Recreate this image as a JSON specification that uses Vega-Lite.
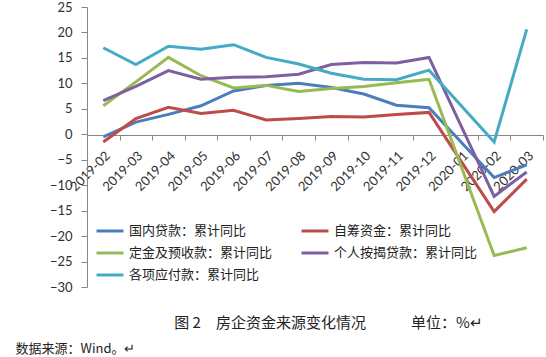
{
  "$schema": "https://vega.github.io/schema/vega-lite/v6.json",
  "autosize": {"type": "none"},
  "padding": {"left": 87, "top": 7, "right": 3, "bottom": 70},
  "width": 456,
  "height": 280,
  "background": "white",
  "config": {
    "view": {"stroke": null},
    "font": "Lato"
  },
  "data": {
    "values": [
      {"month": "2019-02", "series": "国内贷款：累计同比", "value": -0.5},
      {"month": "2019-03", "series": "国内贷款：累计同比", "value": 2.4},
      {"month": "2019-04", "series": "国内贷款：累计同比", "value": 3.9},
      {"month": "2019-05", "series": "国内贷款：累计同比", "value": 5.6},
      {"month": "2019-06", "series": "国内贷款：累计同比", "value": 8.5},
      {"month": "2019-07", "series": "国内贷款：累计同比", "value": 9.6},
      {"month": "2019-08", "series": "国内贷款：累计同比", "value": 10.0},
      {"month": "2019-09", "series": "国内贷款：累计同比", "value": 9.2},
      {"month": "2019-10", "series": "国内贷款：累计同比", "value": 7.9},
      {"month": "2019-11", "series": "国内贷款：累计同比", "value": 5.7},
      {"month": "2019-12", "series": "国内贷款：累计同比", "value": 5.2},
      {"month": "2020-02", "series": "国内贷款：累计同比", "value": -8.5},
      {"month": "2020-03", "series": "国内贷款：累计同比", "value": -6.0},

      {"month": "2019-02", "series": "自筹资金：累计同比", "value": -1.5},
      {"month": "2019-03", "series": "自筹资金：累计同比", "value": 3.1},
      {"month": "2019-04", "series": "自筹资金：累计同比", "value": 5.3},
      {"month": "2019-05", "series": "自筹资金：累计同比", "value": 4.1},
      {"month": "2019-06", "series": "自筹资金：累计同比", "value": 4.7},
      {"month": "2019-07", "series": "自筹资金：累计同比", "value": 2.8},
      {"month": "2019-08", "series": "自筹资金：累计同比", "value": 3.1},
      {"month": "2019-09", "series": "自筹资金：累计同比", "value": 3.5},
      {"month": "2019-10", "series": "自筹资金：累计同比", "value": 3.4},
      {"month": "2019-11", "series": "自筹资金：累计同比", "value": 3.9},
      {"month": "2019-12", "series": "自筹资金：累计同比", "value": 4.3},
      {"month": "2020-02", "series": "自筹资金：累计同比", "value": -15.2},
      {"month": "2020-03", "series": "自筹资金：累计同比", "value": -8.8},

      {"month": "2019-02", "series": "定金及预收款：累计同比", "value": 5.6},
      {"month": "2019-03", "series": "定金及预收款：累计同比", "value": 10.3},
      {"month": "2019-04", "series": "定金及预收款：累计同比", "value": 15.1},
      {"month": "2019-05", "series": "定金及预收款：累计同比", "value": 11.5},
      {"month": "2019-06", "series": "定金及预收款：累计同比", "value": 9.1},
      {"month": "2019-07", "series": "定金及预收款：累计同比", "value": 9.6},
      {"month": "2019-08", "series": "定金及预收款：累计同比", "value": 8.4},
      {"month": "2019-09", "series": "定金及预收款：累计同比", "value": 9.0},
      {"month": "2019-10", "series": "定金及预收款：累计同比", "value": 9.4},
      {"month": "2019-11", "series": "定金及预收款：累计同比", "value": 10.1},
      {"month": "2019-12", "series": "定金及预收款：累计同比", "value": 10.8},
      {"month": "2020-02", "series": "定金及预收款：累计同比", "value": -23.8},
      {"month": "2020-03", "series": "定金及预收款：累计同比", "value": -22.3},

      {"month": "2019-02", "series": "个人按揭贷款：累计同比", "value": 6.6},
      {"month": "2019-03", "series": "个人按揭贷款：累计同比", "value": 9.4},
      {"month": "2019-04", "series": "个人按揭贷款：累计同比", "value": 12.5},
      {"month": "2019-05", "series": "个人按揭贷款：累计同比", "value": 10.8},
      {"month": "2019-06", "series": "个人按揭贷款：累计同比", "value": 11.2},
      {"month": "2019-07", "series": "个人按揭贷款：累计同比", "value": 11.3},
      {"month": "2019-08", "series": "个人按揭贷款：累计同比", "value": 11.8},
      {"month": "2019-09", "series": "个人按揭贷款：累计同比", "value": 13.7},
      {"month": "2019-10", "series": "个人按揭贷款：累计同比", "value": 14.1},
      {"month": "2019-11", "series": "个人按揭贷款：累计同比", "value": 14.0},
      {"month": "2019-12", "series": "个人按揭贷款：累计同比", "value": 15.1},
      {"month": "2020-02", "series": "个人按揭贷款：累计同比", "value": -12.2},
      {"month": "2020-03", "series": "个人按揭贷款：累计同比", "value": -7.4},

      {"month": "2019-02", "series": "各项应付款：累计同比", "value": 17.0},
      {"month": "2019-03", "series": "各项应付款：累计同比", "value": 13.7},
      {"month": "2019-04", "series": "各项应付款：累计同比", "value": 17.3},
      {"month": "2019-05", "series": "各项应付款：累计同比", "value": 16.7},
      {"month": "2019-06", "series": "各项应付款：累计同比", "value": 17.6},
      {"month": "2019-07", "series": "各项应付款：累计同比", "value": 15.1},
      {"month": "2019-08", "series": "各项应付款：累计同比", "value": 13.8},
      {"month": "2019-09", "series": "各项应付款：累计同比", "value": 12.0},
      {"month": "2019-10", "series": "各项应付款：累计同比", "value": 10.8},
      {"month": "2019-11", "series": "各项应付款：累计同比", "value": 10.7},
      {"month": "2019-12", "series": "各项应付款：累计同比", "value": 12.6},
      {"month": "2020-02", "series": "各项应付款：累计同比", "value": -1.5},
      {"month": "2020-03", "series": "各项应付款：累计同比", "value": 20.6}
    ]
  },
  "mark": {"type": "line", "strokeWidth": 3, "strokeJoin": "miter"},
  "encoding": {
    "x": {
      "field": "month",
      "type": "ordinal",
      "bandPosition": 0.5,
      "scale": {
        "type": "band",
        "paddingInner": 0,
        "paddingOuter": 0,
        "domain": ["2019-02","2019-03","2019-04","2019-05","2019-06","2019-07","2019-08","2019-09","2019-10","2019-11","2019-12","2020-01","2020-02","2020-03"]
      },
      "axis": {
        "title": "图 2　房企资金来源变化情况　　　单位：%↵",
        "titleX": 241,
        "titleY": 187,
        "titleAlign": "center",
        "titleBaseline": "middle",
        "titleAngle": 0,
        "titleFont": "Noto Sans CJK SC",
        "titleFontSize": 15,
        "titleFontWeight": "normal",
        "titleColor": "#222222",
        "orient": "bottom",
        "offset": -152,
        "tickBand": "extent",
        "domainColor": "#868686",
        "tickColor": "#868686",
        "tickSize": 5,
        "labelAngle": -45,
        "labelAlign": "right",
        "labelBaseline": "top",
        "labelPadding": 9,
        "labelFont": "Lato",
        "labelFontSize": 13,
        "labelColor": "#303030",
        "labelOverlap": false
      }
    },
    "y": {
      "field": "value",
      "type": "quantitative",
      "scale": {"domain": [-30, 25], "nice": false, "zero": false},
      "axis": {
        "values": [-30, -25, -20, -15, -10, -5, 0, 5, 10, 15, 20, 25],
        "grid": false,
        "domainColor": "#868686",
        "tickColor": "#868686",
        "tickSize": 6,
        "labelPadding": 9,
        "labelFont": "Lato",
        "labelFontSize": 13,
        "labelColor": "#303030",
        "title": "数据来源：Wind。↵",
        "titleAngle": 0,
        "titleAlign": "left",
        "titleBaseline": "middle",
        "titleX": -72,
        "titleY": 341,
        "titleFont": "Noto Sans CJK SC",
        "titleFontSize": 13,
        "titleFontWeight": "normal",
        "titleColor": "#222222"
      }
    },
    "color": {
      "field": "series",
      "type": "nominal",
      "scale": {
        "domain": ["国内贷款：累计同比", "定金及预收款：累计同比", "各项应付款：累计同比", "自筹资金：累计同比", "个人按揭贷款：累计同比"],
        "range": ["#4A7EBB", "#98B954", "#46AAC5", "#BE4B48", "#7D60A0"]
      },
      "legend": {
        "title": null,
        "orient": "none",
        "legendX": 8,
        "legendY": 209,
        "columns": 2,
        "columnPadding": 22,
        "rowPadding": -6,
        "symbolType": "stroke",
        "symbolSize": 729,
        "symbolStrokeWidth": 3,
        "labelFont": "Noto Sans CJK SC",
        "labelFontSize": 13,
        "labelColor": "#222222",
        "labelOffset": 4,
        "labelLimit": 300
      }
    }
  }
}
